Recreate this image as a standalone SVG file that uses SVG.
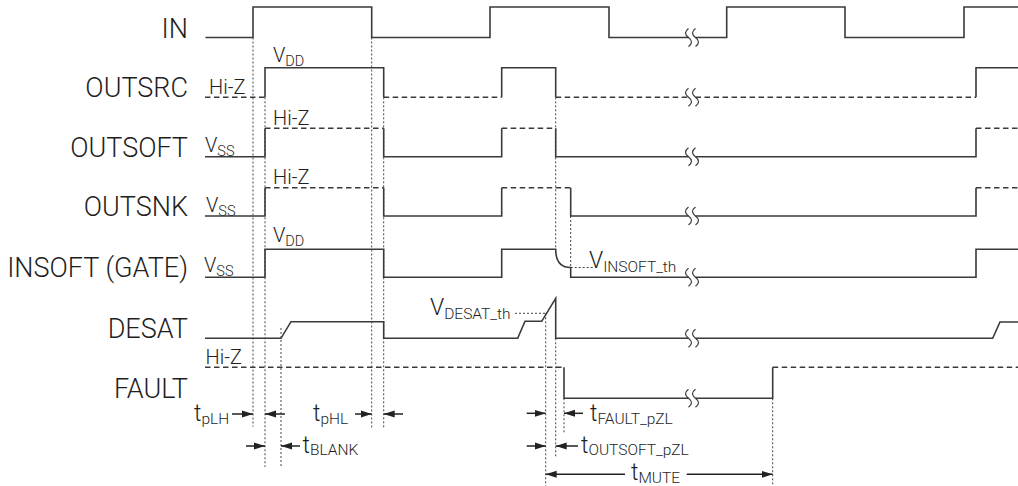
<svg xmlns="http://www.w3.org/2000/svg" width="1018" height="486" viewBox="0 0 1018 486">
<style>
.w{fill:none;stroke:#3a3a3a;stroke-width:1.6}
.d{fill:none;stroke:#3a3a3a;stroke-width:1.4;stroke-dasharray:5.5 3.5}
.g{fill:none;stroke:#444;stroke-width:1;stroke-dasharray:2 2}
.a{fill:none;stroke:#222;stroke-width:1.5;marker-end:url(#ah)}
.br{fill:none;stroke:#3a3a3a;stroke-width:1.2}
text{font-family:Roboto,"Liberation Sans",Arial,sans-serif;font-weight:300;fill:#1e1e1e}
.lb{font-size:27px;text-anchor:end}
.sm{font-size:20px}
.tl{font-size:23px}
.s1{font-size:14.5px}
.s2{font-size:15.5px}
</style>
<defs>
<marker id="ah" markerUnits="userSpaceOnUse" markerWidth="12" markerHeight="8" refX="11" refY="4" orient="auto">
<path d="M0,0.5 L11,4 L0,7.5 z" fill="#222"/>
</marker>
<path id="brk" class="br" d="M-3.5,-9 C-7.5,-6 -7.5,-3 -3.5,0 C0.5,3 0.5,6 -3.5,9 M3.5,-9 C-0.5,-6 -0.5,-3 3.5,0 C7.5,3 7.5,6 3.5,9"/>
</defs>

<g id="connectors">
<path class="g" d="M253,37.5 V426.7 M265,97.3 V467 M281,328 V467 M371.7,37.5 V428 M383.7,97.3 V428 M555.7,97.3 V249.3 M555.7,338.3 V457 M570.7,216 V267.5 M545.7,313.3 V486 M564,398.3 V434 M772.7,398.3 V486"/>
<path class="g" d="M570.7,267.5 H593 M515,313.3 H545.7"/>
<path class="a" d="M232,414 H253"/>
<path class="a" d="M285,414 H265"/>
<path class="a" d="M355,414 H371.7"/>
<path class="a" d="M403,414 H383.7"/>
<path class="a" d="M246,446 H265"/>
<path class="a" d="M300,446 H281"/>
<path class="a" d="M526.7,413.3 H545.7"/>
<path class="a" d="M583,413.3 H564"/>
<path class="a" d="M526.7,446 H545.7"/>
<path class="a" d="M578,446 H555.7"/>
<path class="a" d="M625,474.3 H545.7"/>
<path class="a" d="M686.7,474.3 H772.7"/>
</g>

<g id="IN">
<text class="lb" x="188" y="37.5">IN</text>
<path class="w" d="M205.5,37.5 H253 V7 H371.7 V37.5 H490 V7 H609 V37.5 H688.5 M695.5,37.5 H726.7 V7 H845 V37.5 H964 V7 H1018"/>
<use href="#brk" x="692" y="37.5"/>
</g>

<g id="OUTSRC">
<text class="lb" x="188" y="97.3">OUTSRC</text>
<text class="sm" x="209" y="94">Hi-Z</text>
<text class="sm" x="273" y="62">V<tspan class="s1" dy="4">DD</tspan></text>
<path class="d" d="M205,97.3 H265 M383.7,97.3 H501.7 M555.7,97.3 H688.5 M695.5,97.3 H976"/>
<path class="w" d="M265,97.3 V67.7 H383.7 V97.3 M501.7,97.3 V67.7 H555.7 V97.3 M976,97.3 V67.7 H1018"/>
<use href="#brk" x="692" y="97.3"/>
</g>

<g id="OUTSOFT">
<text class="lb" x="188" y="156.7">OUTSOFT</text>
<text class="sm" x="205" y="151.5">V<tspan class="s1" dy="4">SS</tspan></text>
<text class="sm" x="273" y="125">Hi-Z</text>
<path class="w" d="M205,156.7 H265 V128.3 M383.7,128.3 V156.7 H501.7 V128.3 M555.7,128.3 V156.7 H688.5 M695.5,156.7 H976 V128.3"/>
<path class="d" d="M265,128.3 H383.7 M501.7,128.3 H555.7 M976,128.3 H1018"/>
<use href="#brk" x="692" y="156.7"/>
</g>

<g id="OUTSNK">
<text class="lb" x="188" y="216">OUTSNK</text>
<text class="sm" x="206" y="211.5">V<tspan class="s1" dy="4">SS</tspan></text>
<text class="sm" x="273" y="184.3">Hi-Z</text>
<path class="w" d="M205,216 H265 V187.7 M383.7,187.7 V216 H501.7 V187.7 M570.7,187.7 V216 H688.5 M695.5,216 H976 V187.7"/>
<path class="d" d="M265,187.7 H383.7 M501.7,187.7 H570.7 M976,187.7 H1018"/>
<use href="#brk" x="692" y="216"/>
</g>

<g id="INSOFT">
<text class="lb" x="188" y="277.3">INSOFT (GATE)</text>
<text class="sm" x="204" y="271.5">V<tspan class="s1" dy="4">SS</tspan></text>
<text class="sm" x="273" y="242">V<tspan class="s1" dy="4">DD</tspan></text>
<text class="tl" x="589" y="267.5">V<tspan class="s2" dy="4">INSOFT_th</tspan></text>
<path class="w" d="M205,277.3 H265 V249.3 H383.7 V277.3 H501.7 V249.3 H555.7 Q555.7,267.5 570.7,267.5 V277.3 H688.5 M695.5,277.3 H976 V249.3 H1018"/>
<use href="#brk" x="692" y="277.3"/>
</g>

<g id="DESAT">
<text class="lb" x="188" y="338.3">DESAT</text>
<text class="tl" x="430" y="314.5">V<tspan class="s2" dy="4">DESAT_th</tspan></text>
<path class="w" d="M205,338.3 H281 L291,321.7 H383.7 V338.3 H517.7 L525,321.3 H541.7 L555.7,298.3 V338.3 H688.5 M695.5,338.3 H992.7 L1000,322 H1018"/>
<use href="#brk" x="692" y="338.3"/>
</g>

<g id="FAULT">
<text class="lb" x="188" y="398.3">FAULT</text>
<text class="sm" x="205.5" y="364">Hi-Z</text>
<path class="d" d="M205,367.3 H564 M772.7,367.3 H1018"/>
<path class="w" d="M564,367.3 V398.3 H688.5 M695.5,398.3 H772.7 V367.3"/>
<use href="#brk" x="692" y="398.3"/>
</g>

<g id="timing-labels">
<text class="tl" x="194" y="421">t<tspan class="s2" dy="3">pLH</tspan></text>
<text class="tl" x="313" y="421">t<tspan class="s2" dy="3">pHL</tspan></text>
<text class="tl" x="302.5" y="453">t<tspan class="s2" dy="2">BLANK</tspan></text>
<text class="tl" x="590" y="421">t<tspan class="s2" dy="3">FAULT_pZL</tspan></text>
<text class="tl" x="581" y="453">t<tspan class="s2" dy="2">OUTSOFT_pZL</tspan></text>
<text class="tl" x="631" y="479.5">t<tspan class="s2" dy="3">MUTE</tspan></text>
</g>
</svg>
